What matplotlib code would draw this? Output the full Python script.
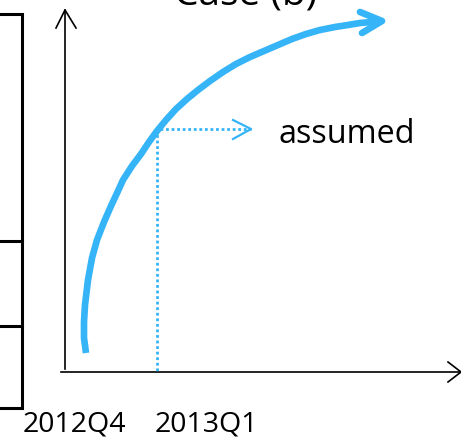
import matplotlib.pyplot as plt

plt.rcParams['font.family'] = ['Open Sans', 'DejaVu Sans']

W, H = 461, 437
blue = '#36b4f8'

# curve (pixel units, y downward)
curve_x = [86, 84, 84, 85, 88, 92, 97, 104, 111, 118, 123, 132, 141, 149, 157, 166, 176, 187, 198, 210,
           223, 236, 250, 264, 278, 292, 306, 320, 335, 348, 360, 372, 380]
curve_y = [353, 338, 322, 305, 280, 258, 240, 222, 206, 191, 180, 166, 154, 142, 131, 120, 109, 99, 90, 81,
           72, 64, 57, 51, 45, 39, 34, 30, 27, 25, 23, 22, 21]

tick_labels = ['2012Q4', '2013Q1']
tick_left = [23, 155]
assumed_x = 157
assumed_y = 129

fig = plt.figure(figsize=(W / 100, H / 100), dpi=100)
ax = fig.add_axes([0, 0, 1, 1])
ax.set_xlim(0, W)
ax.set_ylim(H, 0)
ax.axis('off')

# box fragment at left edge
ax.plot([0, 22, 22, 0], [14, 14, 408, 408], color='black', lw=2.2, solid_joinstyle='miter')
ax.plot([0, 22], [241, 241], color='black', lw=2.2)
ax.plot([0, 22], [326, 326], color='black', lw=2.2)

# axes with arrow heads
ax.plot([65, 65], [369, 10], color='black', lw=1.2)
ax.plot([56, 65, 76], [28, 10, 28], color='black', lw=1.2)
ax.plot([61, 461], [372, 372], color='black', lw=1.2)
ax.plot([448, 461, 448], [362, 372, 382], color='black', lw=1.2)

# main curve
ax.plot(curve_x, curve_y, color=blue, lw=4.8, solid_capstyle='butt', solid_joinstyle='round')
ax.plot([360, 382, 362], [12, 21, 33], color=blue, lw=4.8, solid_capstyle='round', solid_joinstyle='round')

# dotted guide lines
ax.plot([assumed_x, assumed_x], [assumed_y, 371], color=blue, lw=2.0, ls=(0, (1, 1)))
ax.plot([assumed_x + 3, 251], [assumed_y, assumed_y], color=blue, lw=2.0, ls=(0, (1, 1)))
ax.plot([233, 251, 233], [120, 129, 139], color=blue, lw=1.6)

ax.text(278, 143, 'assumed', fontsize=23.3, ha='left', va='baseline')
for lab, x in zip(tick_labels, tick_left):
    ax.text(x, 432, lab, fontsize=20.5, ha='left', va='baseline')

ax.text(246, 5, 'Case (b)', fontsize=28, ha='center', va='baseline')

fig.savefig('out.png', dpi=100)
